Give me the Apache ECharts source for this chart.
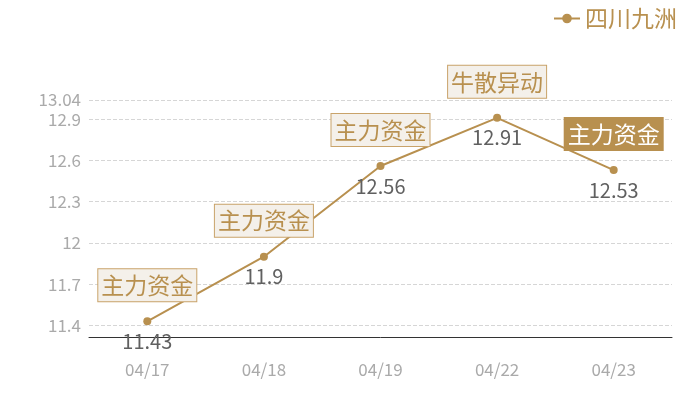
<!DOCTYPE html>
<html>
<head>
<meta charset="utf-8">
<script src="https://cdn.jsdelivr.net/npm/echarts@6/dist/echarts.min.js"></script>
<style>
  html, body { margin: 0; padding: 0; background: #fff; }
  #chart { width: 700px; height: 400px; }
</style>
</head>
<body>
<div id="chart"></div>
<script>
// 数据
let dates = ["04/17", "04/18", "04/19", "04/22", "04/23"];
let prices = [11.43, 11.9, 12.56, 12.91, 12.53];
let tags = ["主力资金", "主力资金", "主力资金", "牛散异动", "主力资金"];
let activeTag = 4;
let yTicks = [11.4, 11.7, 12, 12.3, 12.6, 12.9, 13.04];

let gold = "#b8904f";
let font = "'Noto Sans CJK SC', 'Noto Sans', sans-serif";

let myChart = echarts.init(document.getElementById("chart"));

// 标签框
let marks = tags.map(function (t, i) {
  let on = i === activeTag;
  return {
    coord: [dates[i], prices[i]],
    value: t,
    label: {
      color: on ? "#fff" : gold,
      backgroundColor: on ? gold : "#f4f0ea",
      borderColor: on ? gold : "#c9a36a",
      borderWidth: 1
    }
  };
});

let option = {
  textStyle: { fontFamily: font },
  legend: {
    right: 18,
    top: 2,
    itemWidth: 26,
    itemHeight: 12,
    itemGap: 6,
    textStyle: { color: gold, fontSize: 23, fontFamily: font },
    data: ["四川九洲"]
  },
  grid: { left: 89, right: 28, top: 100, bottom: 63 },
  xAxis: {
    type: "category",
    data: dates,
    boundaryGap: true,
    axisLine: { lineStyle: { color: "#333" } },
    axisTick: { show: false },
    axisLabel: { color: "#aaa", fontSize: 17, margin: 24 }
  },
  yAxis: {
    type: "value",
    min: function (v) { return v.min * 0.99; },
    max: function (v) { return +(v.max * 1.01).toFixed(2); },
    axisLine: { show: false },
    axisTick: { show: false, customValues: yTicks },
    axisLabel: { color: "#aaa", fontSize: 17, margin: 8, customValues: yTicks },
    splitLine: { lineStyle: { color: "#d6d6d6", type: "dashed" } }
  },
  series: [
    {
      name: "四川九洲",
      type: "line",
      data: prices,
      color: gold,
      symbol: "circle",
      symbolSize: 8,
      lineStyle: { width: 2, color: gold },
      label: {
        show: true,
        position: "bottom",
        distance: 6,
        color: "#606060",
        fontSize: 20
      },
      markPoint: {
        symbol: "rect",
        symbolSize: 0,
        symbolOffset: [0, -36],
        label: {
          show: true,
          position: "inside",
          fontSize: 23,
          padding: [5, 3, 4, 3],
          formatter: "{c}"
        },
        data: marks
      }
    }
  ]
};

myChart.setOption(option);
</script>
</body>
</html>
